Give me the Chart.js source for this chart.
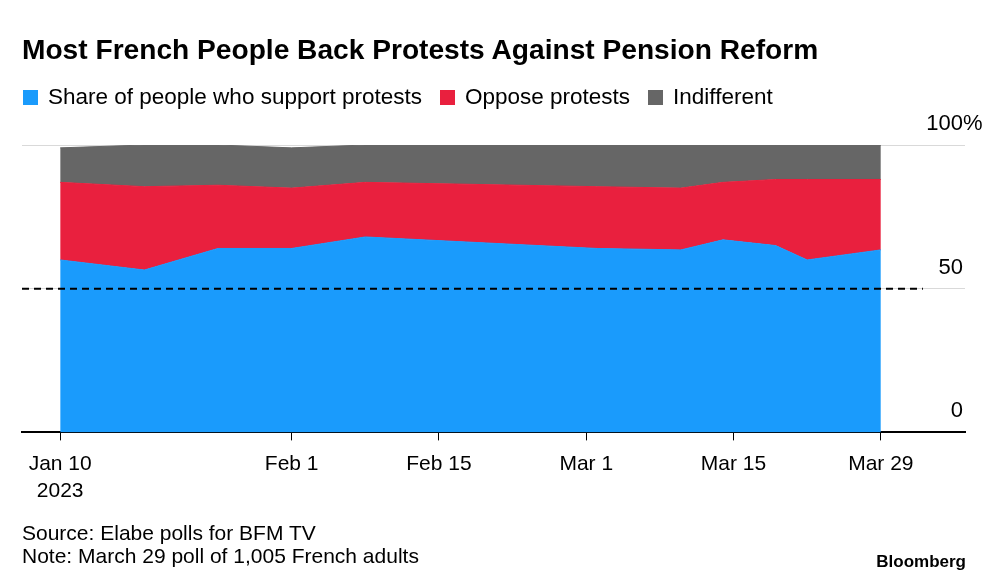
<!DOCTYPE html>
<html>
<head>
<meta charset="utf-8">
<script src="https://cdn.jsdelivr.net/npm/chart.js@4.4.1/dist/chart.umd.min.js"></script>
<style>
  body { margin: 0; background: #fff; font-family: 'Liberation Sans', Arial, sans-serif; color: #000; }
  #wrap { position: relative; width: 993px; height: 578px; overflow: hidden; }
  #chart { position: absolute; left: 0; top: 0; }
  .title { position: absolute; left: 22px; top: 35px; font-size: 27px; line-height: 30px; font-weight: bold; white-space: nowrap; transform-origin: 0 0; }
  #legend { position: absolute; left: 23px; top: 85px; display: flex; font-size: 22.5px; line-height: 24px; white-space: nowrap; }
  .item { display: flex; align-items: center; margin-right: 18px; }
  .sw { width: 15px; height: 15px; margin-right: 10px; }
  .note { position: absolute; left: 22px; font-size: 21px; line-height: 23px; white-space: nowrap; }
  .logo { position: absolute; right: 27px; top: 550px; font-size: 17px; line-height: 23px; font-weight: bold; }
</style>
</head>
<body>
<div id="wrap">
  <canvas id="chart" width="993" height="578"></canvas>
  <div class="title" id="title">Most French People Back Protests Against Pension Reform</div>
  <div id="legend"></div>
  <div class="note" style="top:521px">Source: Elabe polls for BFM TV</div>
  <div class="note" style="top:544px">Note: March 29 poll of 1,005 French adults</div>
  <div class="logo">Bloomberg</div>
</div>
<script>
// poll dates and shares (%)
const pollDates = ['2023-01-10', '2023-01-18', '2023-01-25', '2023-02-01', '2023-02-08', '2023-03-02',
                   '2023-03-10', '2023-03-14', '2023-03-19', '2023-03-22', '2023-03-29'];
const support = [60, 56.5, 64, 64, 68, 64, 63.5, 67, 65, 60, 63.5];
const oppose = [27, 29, 22, 21, 19, 21.5, 21.5, 20, 23, 28, 24.5];
const indifferent = [12, 14.5, 14, 14, 13, 14.5, 15, 13, 12, 12, 12];

const xTickDates = ['2023-01-10', '2023-02-01', '2023-02-15', '2023-03-01', '2023-03-15', '2023-03-29'];
const xTickLabels = [['Jan 10', '2023'], 'Feb 1', 'Feb 15', 'Mar 1', 'Mar 15', 'Mar 29'];
const yTicks = [0, 50, 100];
const yTickLabels = ['0', '50', '100'];
const refValue = 50;
const refEnd = '2023-04-02';

// day of year, so a plain linear scale can be used (no date adapter offline)
const day = s => Math.round((Date.parse(s) - Date.parse('2023-01-01')) / 864e5) + 1;
const pts = vals => pollDates.map((d, i) => ({ x: day(d), y: vals[i] }));

const xMin = 6.37, xMax = 96.0;

const yLabels = {
  id: 'yLabels',
  afterDraw(chart) {
    const { ctx, chartArea, scales: { y } } = chart;
    ctx.save();
    ctx.font = '22px "Liberation Sans", Arial, sans-serif';
    ctx.fillStyle = '#000';
    ctx.textBaseline = 'middle';
    yTicks.forEach((v, i) => {
      const py = y.getPixelForValue(v) - 21;
      ctx.textAlign = 'right';
      ctx.fillText(yTickLabels[i], chartArea.right - 2, py);
      if (v === 100) {
        ctx.textAlign = 'left';
        ctx.fillText('%', chartArea.right - 2, py);
      }
    });
    ctx.restore();
  }
};

const chart = new Chart(document.getElementById('chart'), {
  type: 'line',
  data: {
    datasets: [
      {
        label: 'ref', data: [{ x: xMin, y: refValue }, { x: day(refEnd), y: refValue }],
        stack: 'ref', borderColor: '#000', borderWidth: 2, borderDash: [7, 5],
        pointRadius: 0, fill: false, order: -1
      },
      {
        label: 'Share of people who support protests', data: pts(support),
        backgroundColor: '#1a9bfc', borderColor: '#1a9bfc', borderWidth: 1,
        pointRadius: 0, fill: 'origin', tension: 0
      },
      {
        label: 'Oppose protests', data: pts(oppose),
        backgroundColor: '#e9203e', borderColor: '#e9203e', borderWidth: 1,
        pointRadius: 0, fill: '-1', tension: 0
      },
      {
        label: 'Indifferent', data: pts(indifferent),
        backgroundColor: '#666666', borderColor: '#666666', borderWidth: 1,
        pointRadius: 0, fill: '-1', tension: 0
      }
    ]
  },
  options: {
    responsive: false,
    animation: false,
    layout: { padding: { top: 145, left: 22, right: 28, bottom: 63 } },
    plugins: { legend: { display: false }, tooltip: { enabled: false } },
    scales: {
      x: {
        type: 'linear', min: xMin, max: xMax,
        afterBuildTicks: s => { s.ticks = xTickDates.map(d => ({ value: day(d) })); },
        ticks: {
          autoSkip: false, maxRotation: 0, padding: 10, color: '#000',
          font: { family: "'Liberation Sans', Arial, sans-serif", size: 21, lineHeight: 1.3 },
          callback: (v, i) => xTickLabels[i]
        },
        grid: { drawOnChartArea: false, drawTicks: true, tickLength: 8, color: '#000', lineWidth: 1 },
        border: { display: true, color: '#000', width: 2 }
      },
      y: {
        stacked: true, min: 0, max: 100, position: 'right',
        afterBuildTicks: s => { s.ticks = yTicks.map(v => ({ value: v })); },
        ticks: { display: false },
        grid: {
          drawTicks: false, lineWidth: 1,
          color: c => (c.tick && c.tick.value === 0) ? 'rgba(0,0,0,0)' : '#d9d9d9'
        },
        border: { display: false }
      }
    }
  },
  plugins: [yLabels]
});

// legend from the datasets
const legend = document.getElementById('legend');
chart.data.datasets.slice(1).forEach(ds => {
  const it = document.createElement('div');
  it.className = 'item';
  it.innerHTML = '<span class="sw" style="background:' + ds.backgroundColor + '"></span><span>' + ds.label + '</span>';
  legend.appendChild(it);
});

// squeeze the title to the reference width (narrow house font)
const title = document.getElementById('title');
title.style.transform = 'scaleX(' + (796 / title.offsetWidth) + ')';
</script>
</body>
</html>
